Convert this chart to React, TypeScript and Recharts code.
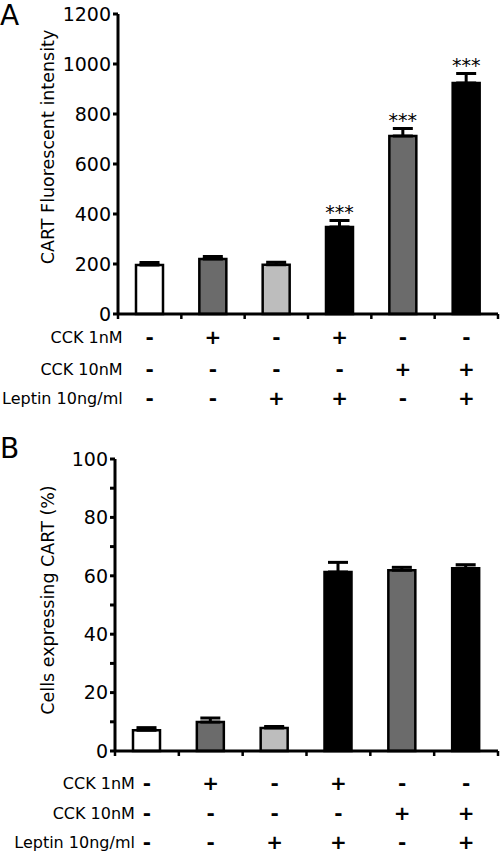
import { BarChart, Bar, XAxis, YAxis, ErrorBar, LabelList, Cell, Label } from 'recharts';

const conditions = ['Control', 'CCK 1nM', 'Leptin', 'CCK 1nM + Leptin', 'CCK 10nM', 'CCK 10nM + Leptin'];
const rowLabels = ['CCK 1nM', 'CCK 10nM', 'Leptin 10ng/ml'];
const cck1nM = ['-', '+', '-', '+', '-', '-'];
const cck10nM = ['-', '-', '-', '-', '+', '+'];
const leptin10 = ['-', '-', '+', '+', '-', '+'];
const barColors = ['#ffffff', '#6b6b6b', '#bdbdbd', '#000000', '#6b6b6b', '#000000'];

// panel A
const fluorMean = [196, 220, 197, 348, 712, 924];
const fluorErr = [10, 10, 10, 26, 30, 38];
const fluorSig = ['', '', '', '***', '***', '***'];
const fluorTicks = [0, 200, 400, 600, 800, 1000, 1200];

// panel B
const cellsMean = [7.1, 9.9, 7.9, 61.3, 61.9, 62.6];
const cellsErr = [0.9, 1.4, 0.5, 3.3, 1.0, 1.2];
const cellsTicks = [0, 10, 20, 30, 40, 50, 60, 70, 80, 90, 100];

const rows = [cck1nM, cck10nM, leptin10];
const FONT = '"DejaVu Sans", Verdana, sans-serif';

const fluorData = conditions.map((name, i) => ({ name, mean: fluorMean[i], err: [0, fluorErr[i]], sig: fluorSig[i] }));
const cellsData = conditions.map((name, i) => ({ name, mean: cellsMean[i], err: [0, cellsErr[i]], sig: '' }));

// x tick: category boundary marks + the +/- table under each bar
const ConditionTick = ({ x, y, index, width, visibleTicksCount, offsets, gap }: any) => {
  const half = width / (visibleTicksCount || conditions.length) / 2;
  return (
    <g>
      <line x1={x - half} y1={y} x2={x - half} y2={y + 5} stroke="#000" strokeWidth={2.5} />
      {index === conditions.length - 1 && (
        <line x1={x + half} y1={y} x2={x + half} y2={y + 5} stroke="#000" strokeWidth={2.5} />
      )}
      {rows.map((r, k) => (
        <text
          key={k}
          x={x}
          y={y + offsets[k]}
          textAnchor="middle"
          dominantBaseline="central"
          fontFamily={FONT}
          fontWeight="bold"
          fontSize={20}
          fill="#000"
        >
          {r[index]}
        </text>
      ))}
      {index === 0 &&
        rowLabels.map((l, k) => (
          <text
            key={'l' + k}
            x={x - gap}
            y={y + offsets[k]}
            textAnchor="end"
            dominantBaseline="central"
            fontFamily={FONT}
            fontSize={16}
            fill="#000"
          >
            {l}
          </text>
        ))}
    </g>
  );
};

const Panel = ({ data, errs, ticks, domain, fmt, yLabel, labelShift, height, top, yWidth, catHeight, offsets, gap }: any) => {
  const StarLabel = (p: any) => {
    const { x, y, width, height: h, index, value } = p;
    if (!value) return null;
    const topY = y - (errs[index] * h) / data[index].mean;
    return (
      <text x={x + width / 2} y={topY - 2} textAnchor="middle" fontFamily={FONT} fontSize={19} fill="#000">
        {value}
      </text>
    );
  };

  return (
    <BarChart width={500} height={height} data={data} margin={{ top, right: 2, left: 0, bottom: 0 }}>
      <XAxis
        dataKey="name"
        stroke="#000"
        strokeWidth={3}
        tickLine={false}
        tickSize={0}
        tickMargin={0}
        interval={0}
        height={catHeight}
        tick={(p: any) => <ConditionTick {...p} offsets={offsets} gap={gap} />}
      />
      <YAxis
        width={yWidth}
        domain={domain}
        ticks={ticks}
        tickFormatter={fmt}
        interval={0}
        stroke="#000"
        strokeWidth={3}
        tickSize={5}
        tickMargin={2}
        tick={{ fill: '#000', fontSize: 19, fontFamily: FONT }}
        label={
          <Label
            content={(p: any) => {
              const vb = p.viewBox;
              const cy = vb.y + vb.height / 2 + labelShift;
              return (
                <text
                  x={48}
                  y={cy}
                  transform={`rotate(-90 48 ${cy})`}
                  textAnchor="middle"
                  dominantBaseline="central"
                  fontFamily={FONT}
                  fontSize={17.5}
                  fill="#000"
                >
                  {yLabel}
                </text>
              );
            }}
          />
        }
      />
      <Bar dataKey="mean" barSize={27} stroke="#000" strokeWidth={2.5} isAnimationActive={false}>
        {data.map((_: any, i: number) => (
          <Cell key={i} fill={barColors[i]} />
        ))}
        <ErrorBar dataKey="err" width={10} stroke="#000" strokeWidth={3} direction="y" />
        <LabelList dataKey="sig" content={StarLabel} />
      </Bar>
    </BarChart>
  );
};

const PanelLetter = ({ letter, top }: { letter: string; top: number }) => (
  <svg width={34} height={34} style={{ position: 'absolute', left: 0, top }}>
    <text x={0} y={27} fontFamily={FONT} fontSize={28} fill="#000">
      {letter}
    </text>
  </svg>
);

export default function App() {
  return (
    <div style={{ position: 'absolute', left: 0, top: 0, width: 500, height: 854, background: '#fff' }}>
      <div style={{ position: 'absolute', left: 0, top: 0 }}>
        <Panel
          data={fluorData}
          errs={fluorErr}
          ticks={fluorTicks}
          domain={[0, 1200]}
          fmt={(v: number) => String(v)}
          yLabel="CART Fluorescent intensity"
          labelShift={-17}
          height={420}
          top={14}
          yWidth={118}
          catHeight={106}
          offsets={[23, 55, 84]}
          gap={27}
        />
      </div>
      <PanelLetter letter="A" top={-2} />
      <div style={{ position: 'absolute', left: 0, top: 440 }}>
        <Panel
          data={cellsData}
          errs={cellsErr}
          ticks={cellsTicks}
          domain={[0, 100]}
          fmt={(v: number) => (v % 20 === 0 ? String(v) : '')}
          yLabel="Cells expressing CART (%)"
          labelShift={-5}
          height={414}
          top={19}
          yWidth={115}
          catHeight={103}
          offsets={[32, 62, 91]}
          gap={12}
        />
      </div>
      <PanelLetter letter="B" top={431} />
    </div>
  );
}
